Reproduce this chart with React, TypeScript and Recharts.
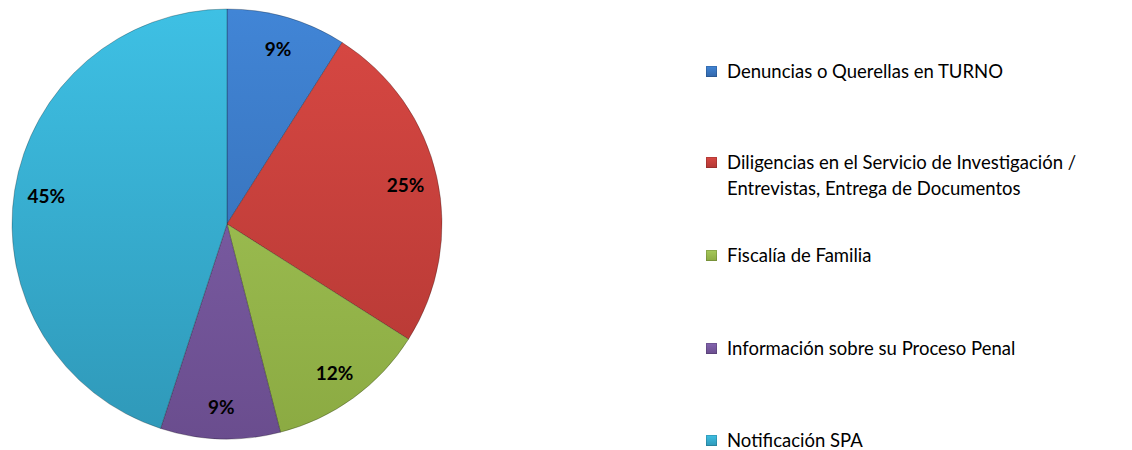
import { PieChart, Pie, Cell, Legend } from 'recharts';

const categories = [
  'Denuncias o Querellas en TURNO',
  'Diligencias en el Servicio de Investigación / Entrevistas, Entrega de Documentos',
  'Fiscalía de Familia',
  'Información sobre su Proceso Penal',
  'Notificación SPA',
];
const percentages = [9, 25, 12, 9, 45];
const topColors = ['#4185D6', '#D84843', '#A6C95A', '#8465AF', '#3EC0E4'];
const bottomColors = ['#3267AA', '#B23733', '#8BAA42', '#6A4D8E', '#2F98B8'];

const data = categories.map((name, i) => ({ name, value: percentages[i] }));

// where each legend row sits (top of the row, in px)
const legendTops = [58, 149, 242, 335, 427];

const RAD = Math.PI / 180;

const renderLabel = (props: any) => {
  const { cx, cy, midAngle, value } = props;
  const r = 183;
  const x = cx + r * Math.cos(-midAngle * RAD);
  const y = cy + r * Math.sin(-midAngle * RAD);
  return (
    <text
      x={x}
      y={y}
      fill="#000"
      textAnchor="middle"
      dominantBaseline="central"
      style={{ fontFamily: 'Lato', fontWeight: 700, fontSize: 19 }}
    >
      {`${value}%`}
    </text>
  );
};

const renderLegend = () => (
  <div style={{ position: 'relative', width: 420, height: 450, fontFamily: 'Lato', fontSize: 18.5, color: '#000' }}>
    {categories.map((name, i) => (
      <div key={name} style={{ position: 'absolute', left: 0, top: legendTops[i], display: 'flex', alignItems: 'flex-start' }}>
        <span
          style={{
            display: 'inline-block',
            flex: '0 0 11px',
            width: 11,
            height: 11,
            marginTop: 8,
            marginRight: 10,
            background: `linear-gradient(${topColors[i]}, ${bottomColors[i]})`,
            boxShadow: 'inset 0 0 0 1px rgba(0,0,0,0.15)',
          }}
        />
        <span style={{ width: 400, lineHeight: '26px' }}>{name}</span>
      </div>
    ))}
  </div>
);

export default function App() {
  return (
    <div style={{ position: 'absolute', left: 0, top: 0, background: '#fff' }}>
      <PieChart width={1132} height={450} margin={{ top: 0, right: 0, bottom: 0, left: 0 }}>
        <defs>
          {topColors.map((c, i) => (
            <linearGradient key={i} id={`g${i}`} x1="0" y1="10" x2="0" y2="440" gradientUnits="userSpaceOnUse">
              <stop offset="0%" stopColor={c} />
              <stop offset="100%" stopColor={bottomColors[i]} />
            </linearGradient>
          ))}
        </defs>
        <Pie
          data={data}
          dataKey="value"
          nameKey="name"
          cx={227}
          cy={224}
          outerRadius={215}
          startAngle={90}
          endAngle={-270}
          label={renderLabel}
          labelLine={false}
          isAnimationActive={false}
          stroke="rgba(0,0,0,0.25)"
          strokeWidth={1}
        >
          {data.map((d, i) => (
            <Cell key={d.name} fill={`url(#g${i})`} />
          ))}
        </Pie>
        <Legend
          content={renderLegend}
          wrapperStyle={{ position: 'absolute', left: 706, top: 0, width: 420, height: 450 }}
        />
      </PieChart>
    </div>
  );
}
